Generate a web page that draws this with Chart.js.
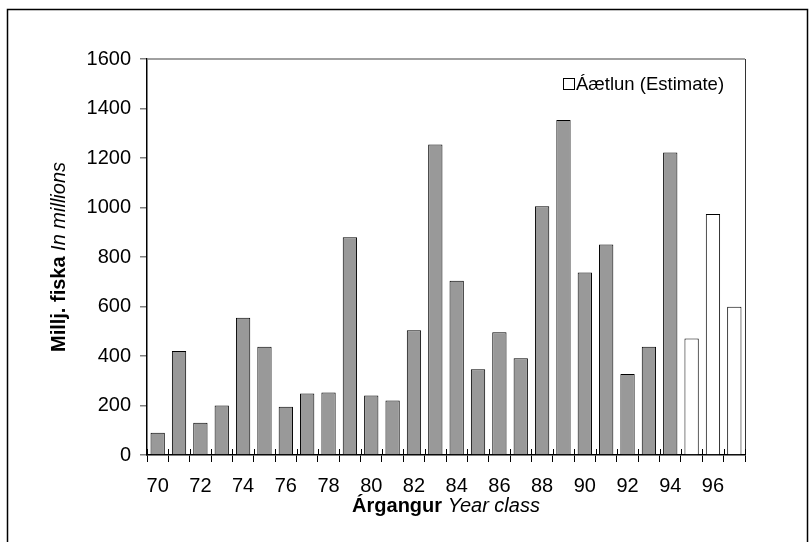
<!DOCTYPE html>
<html>
<head>
<meta charset="utf-8">
<script src="https://cdn.jsdelivr.net/npm/chart.js@4/dist/chart.umd.min.js"></script>
<style>
  html, body { margin: 0; padding: 0; background: #fff; }
  #wrap { width: 809px; height: 542px; }
</style>
</head>
<body>
<div id="wrap"><canvas id="myChart" width="809" height="542"></canvas></div>
<script>
// year classes 1970-1997
const years = ["70","71","72","73","74","75","76","77","78","79","80","81","82","83",
               "84","85","86","87","88","89","90","91","92","93","94","95","96","97"];
// millions of fish, measured
const observed = [90, 420, 130, 200, 555, 437, 195, 248, 253, 880, 240, 220, 504, 1255,
                  704, 346, 496, 391, 1005, 1354, 737, 851, 327, 437, 1222, null, null, null];
// estimates for the latest year classes
const estimate = [null, null, null, null, null, null, null, null, null, null, null, null, null, null,
                  null, null, null, null, null, null, null, null, null, null, null, 471, 974, 599];
const yTicks = [0, 200, 400, 600, 800, 1000, 1200, 1400, 1600];

const FONT = "'Liberation Sans', Arial, sans-serif";

const framePlugin = {
  id: 'frame',
  beforeDraw(chart) {
    const ctx = chart.ctx;
    ctx.save();
    ctx.fillStyle = '#fff';
    ctx.fillRect(0, 0, chart.width, chart.height);
    ctx.strokeStyle = '#000';
    ctx.lineWidth = 1.5;
    ctx.strokeRect(7.5, 9.5, 800, 560);
    ctx.restore();
  },
  afterDraw(chart) {
    const ctx = chart.ctx;
    const a = chart.chartArea;
    ctx.save();
    // top and right of the plot box
    ctx.strokeStyle = '#808080';
    ctx.lineWidth = 1.5;
    ctx.beginPath();
    ctx.moveTo(a.left, a.top);
    ctx.lineTo(a.right, a.top);
    ctx.stroke();
    ctx.strokeStyle = '#333';
    ctx.lineWidth = 1;
    ctx.beginPath();
    ctx.moveTo(a.right + 0.5, a.top);
    ctx.lineTo(a.right + 0.5, a.bottom);
    ctx.stroke();

    // x tick marks crossing the axis
    const xs = chart.scales.x;
    ctx.strokeStyle = '#000';
    ctx.beginPath();
    for (let i = 0; i <= years.length; i++) {
      const px = Math.round(xs.getPixelForValue(i - 0.5)) + 0.5;
      ctx.moveTo(px, a.bottom - 6);
      ctx.lineTo(px, a.bottom);
    }
    ctx.stroke();

    // x axis title
    ctx.fillStyle = '#000';
    ctx.textBaseline = 'middle';
    const t1 = 'Árgangur', t2 = 'Year class';
    ctx.font = 'bold 20px ' + FONT;
    const w1 = ctx.measureText(t1 + ' ').width;
    ctx.font = 'italic 20px ' + FONT;
    const w2 = ctx.measureText(t2).width;
    let x0 = (a.left + a.right) / 2 - (w1 + w2) / 2;
    ctx.textAlign = 'left';
    ctx.font = 'bold 20px ' + FONT;
    ctx.fillText(t1, x0, 506);
    ctx.font = 'italic 20px ' + FONT;
    ctx.fillText(t2, x0 + w1, 506);

    // y axis title
    ctx.save();
    ctx.translate(59, (a.top + a.bottom) / 2);
    ctx.rotate(-Math.PI / 2);
    const y1 = 'Millj. fiska', y2 = 'In millions';
    ctx.font = 'bold 20px ' + FONT;
    const v1 = ctx.measureText(y1 + ' ').width;
    ctx.font = 'italic 20px ' + FONT;
    const v2 = ctx.measureText(y2).width;
    const s0 = -(v1 + v2) / 2;
    ctx.font = 'bold 20px ' + FONT;
    ctx.fillText(y1, s0, 0);
    ctx.font = 'italic 20px ' + FONT;
    ctx.fillText(y2, s0 + v1, 0);
    ctx.restore();

    // legend inside the plot (estimate only)
    const ds = chart.data.datasets[1];
    ctx.fillStyle = '#fff';
    ctx.strokeStyle = '#000';
    ctx.lineWidth = 1;
    ctx.fillRect(563.5, 78.5, 11, 11);
    ctx.strokeRect(563.5, 78.5, 11, 11);
    ctx.fillStyle = '#000';
    ctx.font = '18.5px ' + FONT;
    ctx.fillText(ds.label, 576, 84.5);
    ctx.restore();
  }
};

new Chart(document.getElementById('myChart').getContext('2d'), {
  type: 'bar',
  data: {
    labels: years,
    datasets: [
      {
        label: 'Mælt',
        data: observed,
        backgroundColor: '#999999',
        borderColor: '#000',
        borderWidth: 1,
        grouped: false,
        barPercentage: 0.67,
        categoryPercentage: 1
      },
      {
        label: 'Áætlun (Estimate)',
        data: estimate,
        backgroundColor: '#ffffff',
        borderColor: '#000',
        borderWidth: 1,
        grouped: false,
        barPercentage: 0.67,
        categoryPercentage: 1
      }
    ]
  },
  options: {
    responsive: false,
    animation: false,
    layout: { padding: { left: 0, right: 64, top: 59, bottom: 0 } },
    plugins: {
      legend: { display: false },
      tooltip: { enabled: false }
    },
    scales: {
      x: {
        grid: { display: true, drawOnChartArea: false, offset: true, color: '#000', tickLength: 7 },
        border: { color: '#000', width: 1.5 },
        ticks: {
          autoSkip: false,
          maxRotation: 0,
          color: '#000',
          font: { family: FONT, size: 20 },
          padding: 12,
          callback: function (v, i) { return i % 2 === 0 ? years[i] : ''; }
        },
        afterFit: function (s) { s.height = 87; }
      },
      y: {
        min: 0,
        max: 1600,
        afterBuildTicks: function (s) { s.ticks = yTicks.map(v => ({ value: v })); },
        grid: { drawOnChartArea: false, color: '#808080', tickLength: 7, lineWidth: 1.5 },
        border: { color: '#000', width: 1.5 },
        ticks: {
          color: '#000',
          font: { family: FONT, size: 20 },
          padding: 9,
          callback: function (v) { return String(v); }
        },
        afterFit: function (s) { s.width = 147; }
      }
    }
  },
  plugins: [framePlugin]
});
</script>
</body>
</html>
